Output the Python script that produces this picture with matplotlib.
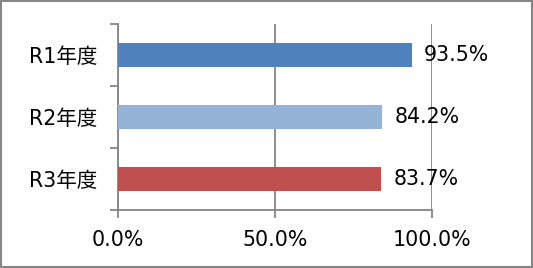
import matplotlib
matplotlib.use("Agg")
import matplotlib.pyplot as plt
from matplotlib.patches import Rectangle

plt.rcParams['font.family'] = ['DejaVu Sans', 'Noto Sans CJK JP']

categories = ["R1年度", "R2年度", "R3年度"]
values = [93.5, 84.2, 83.7]
colors = ["#4F81BD", "#95B3D7", "#C0504D"]
xticks = [0, 50, 100]
xticklabels = ["0.0%", "50.0%", "100.0%"]

FS = 14.8

fig = plt.figure(figsize=(5.33, 2.68), dpi=100)
ax = fig.add_axes([118/533, 58/268, 314/533, 186/268])

ypos = [2, 1, 0]
ax.barh(ypos, values, height=0.4, color=colors, zorder=3)
for y, v in zip(ypos, values):
    ax.annotate(f"{v:.1f}%", xy=(v, y), xytext=(9, 0), textcoords="offset points",
                va="center", ha="left", fontsize=FS, color="black", zorder=5)

ax.set_xlim(0, 100)
ax.set_ylim(-0.5, 2.5)
ax.set_xticks(xticks)
ax.set_xticklabels(xticklabels, fontsize=FS)
ax.set_yticks([-0.5, 0.5, 1.5, 2.5], minor=False)
ax.set_yticklabels([])
ax.set_yticks(ypos, minor=True)
ax.set_yticklabels(categories, minor=True, fontsize=FS)
ax.tick_params(axis='y', which='minor', length=0, pad=15)
ax.tick_params(axis='y', which='major', length=5.5, color="#868686", width=1.3)
ax.tick_params(axis='x', length=5.5, color="#868686", width=1.3, pad=9)

ax.grid(axis='x', color="#868686", linewidth=1.3, zorder=1)
for s in ['top', 'right']:
    ax.spines[s].set_visible(False)
for s in ['left', 'bottom']:
    ax.spines[s].set_color("#868686")
    ax.spines[s].set_linewidth(1.3)

fig.patches.append(Rectangle((0.002, 0.003), 0.996, 0.994, transform=fig.transFigure,
                             fill=False, edgecolor="#868686", linewidth=1.5))

fig.savefig("out.png", dpi=100)
